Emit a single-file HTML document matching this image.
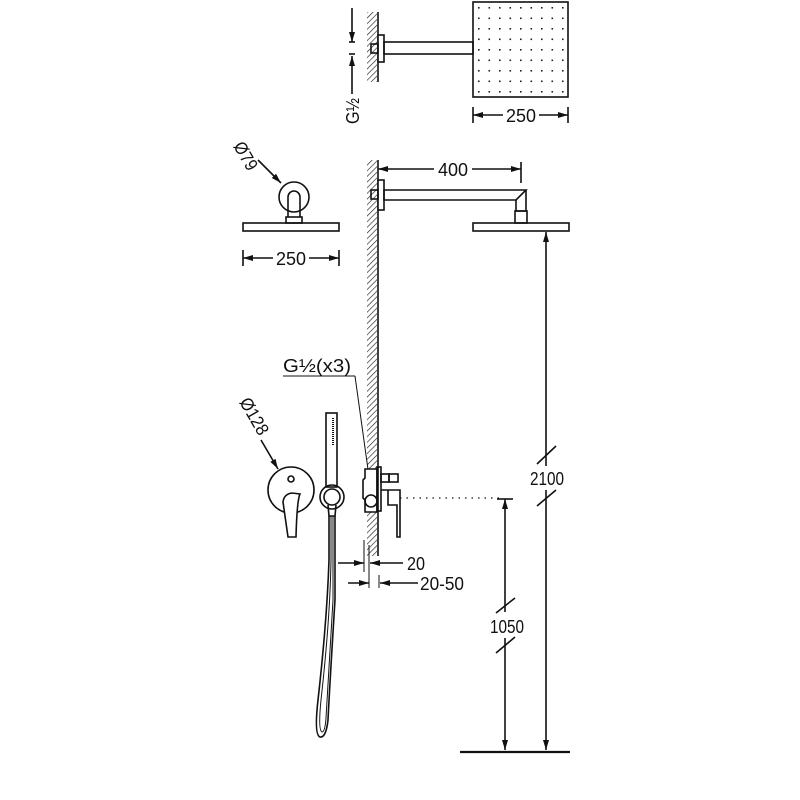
<!DOCTYPE html>
<html><head><meta charset="utf-8"><style>html,body{margin:0;padding:0;background:#fff}svg{display:block}text{font-size:18px;fill:#111;stroke:none}</style></head>
<body>
<svg width="800" height="800" viewBox="0 0 800 800" xmlns="http://www.w3.org/2000/svg" font-family="Liberation Sans, sans-serif" fill="none" stroke="#111" stroke-width="1.6">
<defs>
<pattern id="h" width="4" height="4" patternUnits="userSpaceOnUse" patternTransform="rotate(45)"><line x1="0" y1="0" x2="0" y2="4" stroke="#222" stroke-width="1.3"/></pattern>
<marker id="a" viewBox="0 0 10 6" refX="10" refY="3" markerWidth="11" markerHeight="6" orient="auto-start-reverse" markerUnits="userSpaceOnUse"><path d="M0,0L10,3L0,6z" fill="#111" stroke="none"/></marker>
<pattern id="d" width="10.5" height="10.5" patternUnits="userSpaceOnUse" x="478" y="7"><rect x="0" y="0" width="1.6" height="1.6" fill="#222" stroke="none"/></pattern>
</defs>

<!-- TOP VIEW -->
<rect x="367" y="12" width="10" height="70" fill="url(#h)" stroke="none"/>
<line x1="378" y1="12" x2="378" y2="82"/>
<rect x="378" y="35" width="6" height="27" fill="#fff"/>
<rect x="371" y="44" width="7" height="9"/>
<rect x="384" y="42" width="89" height="12"/>
<rect x="473" y="2" width="95" height="95" fill="url(#d)"/>
<line x1="352" y1="8" x2="352" y2="42" marker-end="url(#a)"/>
<line x1="352" y1="94" x2="352" y2="56" marker-end="url(#a)"/>
<line x1="349" y1="42" x2="355" y2="42"/><line x1="349" y1="54" x2="355" y2="54"/>
<text transform="translate(359,124) rotate(-90)" textLength="26" lengthAdjust="spacingAndGlyphs">G½</text>
<line x1="473" y1="107" x2="473" y2="123"/><line x1="568" y1="107" x2="568" y2="123"/>
<line x1="473" y1="115" x2="503" y2="115" marker-start="url(#a)"/>
<line x1="539" y1="115" x2="568" y2="115" marker-end="url(#a)"/>
<text x="506" y="122" textLength="30" lengthAdjust="spacingAndGlyphs">250</text>

<!-- SIDE WALL -->
<rect x="367" y="160" width="10" height="396" fill="url(#h)" stroke="none"/>
<line x1="378" y1="160" x2="378" y2="556"/>
<line x1="378" y1="169" x2="434" y2="169" marker-start="url(#a)"/>
<line x1="472" y1="169" x2="521" y2="169" marker-end="url(#a)"/>
<line x1="521" y1="162" x2="521" y2="183"/>
<text x="438" y="176" textLength="30" lengthAdjust="spacingAndGlyphs">400</text>
<rect x="378" y="180" width="6" height="30" fill="#fff"/>
<rect x="371" y="190" width="7" height="9"/>
<path d="M384,190 H526 L516,200 H384 Z"/>
<path d="M526,190 V211 H516 V200"/>
<rect x="515" y="211" width="12" height="12"/>
<rect x="473" y="223" width="96" height="8"/>

<!-- 2100 dim -->
<line x1="546" y1="232" x2="546" y2="466" marker-start="url(#a)"/>
<line x1="546" y1="490" x2="546" y2="750" marker-end="url(#a)"/>
<line x1="537" y1="464" x2="556" y2="446"/>
<line x1="537" y1="506" x2="556" y2="490"/>
<text x="530" y="485" textLength="34" lengthAdjust="spacingAndGlyphs">2100</text>

<!-- 1050 dim -->
<line x1="400" y1="498" x2="500" y2="498" stroke-dasharray="1.5,5" stroke-width="1.2"/>
<line x1="497" y1="499" x2="513" y2="499"/>
<line x1="505" y1="612" x2="505" y2="499" marker-end="url(#a)"/>
<line x1="505" y1="638" x2="505" y2="750" marker-end="url(#a)"/>
<line x1="496" y1="613" x2="515" y2="598"/>
<line x1="496" y1="653" x2="515" y2="637"/>
<text x="490" y="633" textLength="34" lengthAdjust="spacingAndGlyphs">1050</text>
<line x1="460" y1="752" x2="570" y2="752" stroke-width="2.2"/>

<!-- LEFT HEAD -->
<text transform="translate(233,146) rotate(60)" textLength="30" lengthAdjust="spacingAndGlyphs">Ø79</text>
<line x1="258" y1="160" x2="281" y2="183" marker-end="url(#a)"/>
<circle cx="294" cy="197" r="15"/>
<path d="M288,217 V197 A6,6 0 0 1 300,197 V217"/>
<rect x="286" y="217" width="16" height="6"/>
<rect x="243" y="223" width="96" height="8"/>
<line x1="243" y1="250" x2="243" y2="266"/><line x1="339" y1="250" x2="339" y2="266"/>
<line x1="243" y1="258" x2="273" y2="258" marker-start="url(#a)"/>
<line x1="309" y1="258" x2="339" y2="258" marker-end="url(#a)"/>
<text x="276" y="265" textLength="30" lengthAdjust="spacingAndGlyphs">250</text>

<!-- G1/2 x3 -->
<text x="283" y="372" textLength="68" lengthAdjust="spacingAndGlyphs">G½(x3)</text>
<line x1="283" y1="376" x2="355" y2="376" stroke-width="1"/>
<line x1="355" y1="376" x2="371" y2="491" stroke-width="1" marker-end="url(#a)"/>

<!-- valve -->
<path d="M365,469 H377 V512 H365 V500 L363,498 V480 L365,478 Z" fill="#fff"/>
<circle cx="371" cy="501" r="6"/>
<rect x="377" y="467" width="4" height="44"/>
<rect x="381" y="474" width="8" height="8"/><rect x="389" y="474" width="9" height="8"/>
<path d="M381,490 H400 V537 H397 V505 H388 V490"/>

<!-- Ø128 -->
<text transform="translate(239,402) rotate(60)" textLength="40" lengthAdjust="spacingAndGlyphs">Ø128</text>
<line x1="261" y1="440" x2="278" y2="469" marker-end="url(#a)"/>
<circle cx="291" cy="490" r="23"/>
<circle cx="291" cy="479" r="3"/>
<path d="M283,502 Q284,494 292,493 L300,494 Q297,500 296,537 H288 Z" fill="#fff"/>

<!-- handshower -->
<rect x="326" y="413" width="11" height="74"/>
<line x1="333" y1="418" x2="333" y2="445" stroke-dasharray="1,1" stroke-width="2"/>
<circle cx="332" cy="497" r="12"/>
<circle cx="332" cy="497" r="8"/>
<path d="M328,505 L329,516 H335 L336,505"/>
<path d="M329,516 L329,560 Q327,620 318,700 Q314,735 320,737 Q326,738 328,720 Q330,680 335,600 L335,516"/>
<path d="M331,516 L331,560 Q330,620 321,700 Q318,730 322,732 Q325,732 326,718 Q328,680 333,600 L333,516" stroke-width="1"/>

<!-- 20 / 20-50 -->
<line x1="364" y1="540" x2="364" y2="572" stroke-width="1"/>
<line x1="369" y1="545" x2="369" y2="588" stroke-width="1"/>
<line x1="379" y1="575" x2="379" y2="588" stroke-width="1"/>
<line x1="338" y1="563" x2="364" y2="563" marker-end="url(#a)"/>
<line x1="403" y1="563" x2="370" y2="563" marker-end="url(#a)"/>
<text x="407" y="570" textLength="18" lengthAdjust="spacingAndGlyphs">20</text>
<line x1="348" y1="583" x2="369" y2="583" marker-end="url(#a)"/>
<line x1="418" y1="583" x2="380" y2="583" marker-end="url(#a)"/>
<text x="420" y="590" textLength="44" lengthAdjust="spacingAndGlyphs">20-50</text>
</svg>
</body></html>
